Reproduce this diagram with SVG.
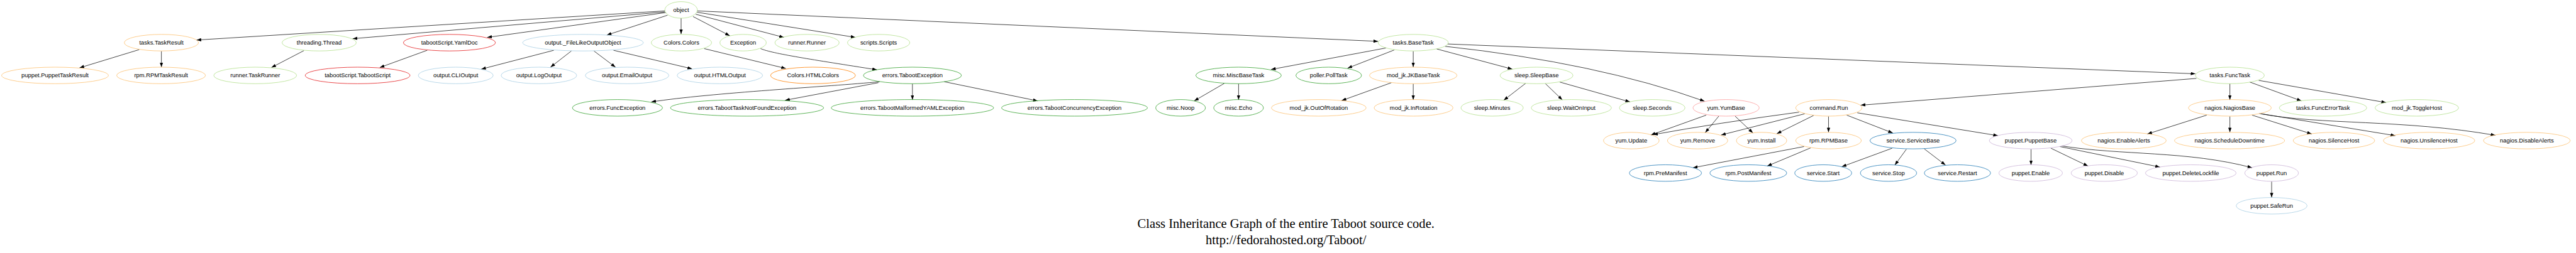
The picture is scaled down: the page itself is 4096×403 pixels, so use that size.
<svg xmlns="http://www.w3.org/2000/svg" width="4096" height="403" viewBox="0 0 4096 403">
<style>
.n ellipse{fill:none;stroke-width:1.5}
.n text{font-family:"Liberation Sans",Arial,sans-serif;font-size:17.8px;text-anchor:middle;fill:#000}
.lg ellipse{stroke:#b2df8a}.g ellipse{stroke:#33a02c}.lb ellipse{stroke:#a6cee3}.b ellipse{stroke:#1f78b4}
.lo ellipse{stroke:#fdbf6f}.o ellipse{stroke:#ff7f00}.r ellipse{stroke:#e31a1c}.pk ellipse{stroke:#fb9a99}.lp ellipse{stroke:#cab2d6}
#connectors path{fill:none;stroke:#000;stroke-width:1.4;marker-end:url(#arr)}
.cap{font-family:"Liberation Serif","Times New Roman",serif;font-size:39px;text-anchor:middle;fill:#000}
</style>
<defs>
<marker id="arr" markerUnits="userSpaceOnUse" viewBox="0 0 14 10" markerWidth="14" markerHeight="10" refX="14" refY="5" orient="auto"><path d="M0,0 L14,5 L0,10 z" fill="#000"/></marker>
</defs>
<rect width="4096" height="403" fill="#fff"/>
<g transform="scale(0.527)">
<g id="connectors">
<path d="M2006,33 L593,121"/>
<path d="M2006,36 L1064,117"/>
<path d="M2009,38 L1470,113"/>
<path d="M2014,46 L1831,106"/>
<path d="M2055,55 L2055,103"/>
<path d="M2091,50 L2202,108"/>
<path d="M2099,43 L2365,113"/>
<path d="M2103,37 L2581,113"/>
<path d="M2104,33 L4158,125"/>
<path d="M420,150 L240,205"/>
<path d="M487,155 L487,203"/>
<path d="M917,153 L819,204"/>
<path d="M1289,152 L1146,204"/>
<path d="M1671,152 L1452,209"/>
<path d="M1724,154 L1661,203"/>
<path d="M1792,154 L1857,203"/>
<path d="M1851,152 L2088,208"/>
<path d="M2125,147 L2371,207"/>
<path d="M2295,147 C2330,162 2450,180 2646,211"/>
<path d="M2654,247 C2500,262 2150,280 1965,308"/>
<path d="M2650,250 L2369,303"/>
<path d="M2753,253 L2753,302"/>
<path d="M2849,247 L3131,305"/>
<path d="M4182,145 L3835,210"/>
<path d="M4207,151 L4066,206"/>
<path d="M4264,155 L4264,203"/>
<path d="M4335,148 L4563,209"/>
<path d="M4360,140 Q4820,190 5143,306"/>
<path d="M4368,133 L6624,223"/>
<path d="M6627,237 L5614,318"/>
<path d="M6728,253 L6728,302"/>
<path d="M6788,248 L6944,305"/>
<path d="M6815,243 L7199,310"/>
<path d="M4198,250 L4048,304"/>
<path d="M4264,253 L4264,302"/>
<path d="M4603,252 L4537,303"/>
<path d="M4663,253 L4714,302"/>
<path d="M4706,248 L4918,308"/>
<path d="M3694,252 L3603,305"/>
<path d="M3737,253 L3737,302"/>
<path d="M5148,348 L4981,408"/>
<path d="M5186,351 L5145,401"/>
<path d="M5235,351 L5289,402"/>
<path d="M5428,339 Q5180,372 4988,407"/>
<path d="M5445,344 L5193,408"/>
<path d="M5472,349 L5361,404"/>
<path d="M5517,352 L5517,400"/>
<path d="M5572,348 L5711,402"/>
<path d="M5604,341 L6028,410"/>
<path d="M5443,443 L5108,507"/>
<path d="M5463,447 L5332,502"/>
<path d="M5709,448 L5557,504"/>
<path d="M5752,451 L5717,499"/>
<path d="M5806,450 L5870,499"/>
<path d="M6128,451 L6128,499"/>
<path d="M6188,448 L6300,502"/>
<path d="M6215,443 L6517,505"/>
<path d="M6220,441 C6400,470 6600,455 6795,507"/>
<path d="M6854,549 L6854,597"/>
<path d="M6658,348 L6479,405"/>
<path d="M6728,352 L6728,400"/>
<path d="M6795,348 L6975,405"/>
<path d="M6817,343 L7227,410"/>
<path d="M6822,344 C7000,378 7250,360 7529,409"/>
</g>
<g id="object" class="n lg"><ellipse cx="2055" cy="30" rx="49" ry="25"/><text x="2055" y="36">object</text></g>
<g id="tasks.TaskResult" class="n lo"><ellipse cx="487" cy="129" rx="112" ry="25"/><text x="487" y="135">tasks.TaskResult</text></g>
<g id="threading.Thread" class="n lg"><ellipse cx="963" cy="129" rx="112" ry="25"/><text x="963" y="135">threading.Thread</text></g>
<g id="tabootScript.YamlDoc" class="n r"><ellipse cx="1356" cy="129" rx="139" ry="25"/><text x="1356" y="135">tabootScript.YamlDoc</text></g>
<g id="output._FileLikeOutputObject" class="n lb"><ellipse cx="1759" cy="129" rx="182" ry="25"/><text x="1759" y="135">output._FileLikeOutputObject</text></g>
<g id="Colors.Colors" class="n lg"><ellipse cx="2056" cy="129" rx="91" ry="25"/><text x="2056" y="135">Colors.Colors</text></g>
<g id="Exception" class="n lg"><ellipse cx="2242" cy="129" rx="70" ry="25"/><text x="2242" y="135">Exception</text></g>
<g id="runner.Runner" class="n lg"><ellipse cx="2435" cy="129" rx="97" ry="25"/><text x="2435" y="135">runner.Runner</text></g>
<g id="scripts.Scripts" class="n lg"><ellipse cx="2651" cy="129" rx="94" ry="25"/><text x="2651" y="135">scripts.Scripts</text></g>
<g id="tasks.BaseTask" class="n lg"><ellipse cx="4264" cy="129" rx="106" ry="25"/><text x="4264" y="135">tasks.BaseTask</text></g>
<g id="puppet.PuppetTaskResult" class="n lo"><ellipse cx="166" cy="228" rx="161" ry="25"/><text x="166" y="234">puppet.PuppetTaskResult</text></g>
<g id="rpm.RPMTaskResult" class="n lo"><ellipse cx="486" cy="228" rx="134" ry="25"/><text x="486" y="234">rpm.RPMTaskResult</text></g>
<g id="runner.TaskRunner" class="n lg"><ellipse cx="770" cy="228" rx="125" ry="25"/><text x="770" y="234">runner.TaskRunner</text></g>
<g id="tabootScript.TabootScript" class="n r"><ellipse cx="1079" cy="228" rx="158" ry="25"/><text x="1079" y="234">tabootScript.TabootScript</text></g>
<g id="output.CLIOutput" class="n lb"><ellipse cx="1375" cy="228" rx="113" ry="25"/><text x="1375" y="234">output.CLIOutput</text></g>
<g id="output.LogOutput" class="n lb"><ellipse cx="1626" cy="228" rx="114" ry="25"/><text x="1626" y="234">output.LogOutput</text></g>
<g id="output.EmailOutput" class="n lb"><ellipse cx="1892" cy="228" rx="126" ry="25"/><text x="1892" y="234">output.EmailOutput</text></g>
<g id="output.HTMLOutput" class="n lb"><ellipse cx="2172" cy="228" rx="129" ry="25"/><text x="2172" y="234">output.HTMLOutput</text></g>
<g id="Colors.HTMLColors" class="n o"><ellipse cx="2453" cy="228" rx="128" ry="25"/><text x="2453" y="234">Colors.HTMLColors</text></g>
<g id="errors.TabootException" class="n g"><ellipse cx="2753" cy="228" rx="148" ry="25"/><text x="2753" y="234">errors.TabootException</text></g>
<g id="misc.MiscBaseTask" class="n g"><ellipse cx="3737" cy="228" rx="129" ry="25"/><text x="3737" y="234">misc.MiscBaseTask</text></g>
<g id="poller.PollTask" class="n g"><ellipse cx="4009" cy="228" rx="99" ry="25"/><text x="4009" y="234">poller.PollTask</text></g>
<g id="mod_jk.JKBaseTask" class="n lo"><ellipse cx="4264" cy="228" rx="132" ry="25"/><text x="4264" y="234">mod_jk.JKBaseTask</text></g>
<g id="sleep.SleepBase" class="n lg"><ellipse cx="4636" cy="228" rx="110" ry="25"/><text x="4636" y="234">sleep.SleepBase</text></g>
<g id="tasks.FuncTask" class="n lg"><ellipse cx="6728" cy="228" rx="104" ry="25"/><text x="6728" y="234">tasks.FuncTask</text></g>
<g id="errors.FuncException" class="n g"><ellipse cx="1863" cy="326" rx="136" ry="25"/><text x="1863" y="332">errors.FuncException</text></g>
<g id="errors.TabootTaskNotFoundException" class="n g"><ellipse cx="2254" cy="326" rx="231" ry="25"/><text x="2254" y="332">errors.TabootTaskNotFoundException</text></g>
<g id="errors.TabootMalformedYAMLException" class="n g"><ellipse cx="2753" cy="326" rx="245" ry="25"/><text x="2753" y="332">errors.TabootMalformedYAMLException</text></g>
<g id="errors.TabootConcurrencyException" class="n g"><ellipse cx="3242" cy="326" rx="220" ry="25"/><text x="3242" y="332">errors.TabootConcurrencyException</text></g>
<g id="misc.Noop" class="n g"><ellipse cx="3562" cy="326" rx="75" ry="25"/><text x="3562" y="332">misc.Noop</text></g>
<g id="misc.Echo" class="n g"><ellipse cx="3737" cy="326" rx="75" ry="25"/><text x="3737" y="332">misc.Echo</text></g>
<g id="mod_jk.OutOfRotation" class="n lo"><ellipse cx="3979" cy="326" rx="143" ry="25"/><text x="3979" y="332">mod_jk.OutOfRotation</text></g>
<g id="mod_jk.InRotation" class="n lo"><ellipse cx="4265" cy="326" rx="119" ry="25"/><text x="4265" y="332">mod_jk.InRotation</text></g>
<g id="sleep.Minutes" class="n lg"><ellipse cx="4502" cy="326" rx="94" ry="25"/><text x="4502" y="332">sleep.Minutes</text></g>
<g id="sleep.WaitOnInput" class="n lg"><ellipse cx="4741" cy="326" rx="121" ry="25"/><text x="4741" y="332">sleep.WaitOnInput</text></g>
<g id="sleep.Seconds" class="n lg"><ellipse cx="4985" cy="326" rx="99" ry="25"/><text x="4985" y="332">sleep.Seconds</text></g>
<g id="yum.YumBase" class="n pk"><ellipse cx="5208" cy="326" rx="100" ry="25"/><text x="5208" y="332">yum.YumBase</text></g>
<g id="command.Run" class="n lo"><ellipse cx="5518" cy="326" rx="100" ry="25"/><text x="5518" y="332">command.Run</text></g>
<g id="nagios.NagiosBase" class="n lo"><ellipse cx="6728" cy="326" rx="125" ry="25"/><text x="6728" y="332">nagios.NagiosBase</text></g>
<g id="tasks.FuncErrorTask" class="n lg"><ellipse cx="7009" cy="326" rx="132" ry="25"/><text x="7009" y="332">tasks.FuncErrorTask</text></g>
<g id="mod_jk.ToggleHost" class="n lg"><ellipse cx="7292" cy="326" rx="126" ry="25"/><text x="7292" y="332">mod_jk.ToggleHost</text></g>
<g id="yum.Update" class="n lo"><ellipse cx="4922" cy="425" rx="84" ry="25"/><text x="4922" y="431">yum.Update</text></g>
<g id="yum.Remove" class="n lo"><ellipse cx="5122" cy="425" rx="91" ry="25"/><text x="5122" y="431">yum.Remove</text></g>
<g id="yum.Install" class="n lo"><ellipse cx="5315" cy="425" rx="76" ry="25"/><text x="5315" y="431">yum.Install</text></g>
<g id="rpm.RPMBase" class="n lo"><ellipse cx="5517" cy="425" rx="99" ry="25"/><text x="5517" y="431">rpm.RPMBase</text></g>
<g id="service.ServiceBase" class="n b"><ellipse cx="5772" cy="425" rx="130" ry="25"/><text x="5772" y="431">service.ServiceBase</text></g>
<g id="puppet.PuppetBase" class="n lp"><ellipse cx="6127" cy="425" rx="125" ry="25"/><text x="6127" y="431">puppet.PuppetBase</text></g>
<g id="nagios.EnableAlerts" class="n lo"><ellipse cx="6408" cy="425" rx="128" ry="25"/><text x="6408" y="431">nagios.EnableAlerts</text></g>
<g id="nagios.ScheduleDowntime" class="n lo"><ellipse cx="6727" cy="425" rx="166" ry="25"/><text x="6727" y="431">nagios.ScheduleDowntime</text></g>
<g id="nagios.SilenceHost" class="n lo"><ellipse cx="7042" cy="425" rx="123" ry="25"/><text x="7042" y="431">nagios.SilenceHost</text></g>
<g id="nagios.UnsilenceHost" class="n lo"><ellipse cx="7329" cy="425" rx="138" ry="25"/><text x="7329" y="431">nagios.UnsilenceHost</text></g>
<g id="nagios.DisableAlerts" class="n lo"><ellipse cx="7624" cy="425" rx="131" ry="25"/><text x="7624" y="431">nagios.DisableAlerts</text></g>
<g id="rpm.PreManifest" class="n b"><ellipse cx="5025" cy="523" rx="109" ry="25"/><text x="5025" y="529">rpm.PreManifest</text></g>
<g id="rpm.PostManifest" class="n b"><ellipse cx="5275" cy="523" rx="116" ry="25"/><text x="5275" y="529">rpm.PostManifest</text></g>
<g id="service.Start" class="n b"><ellipse cx="5501" cy="523" rx="86" ry="25"/><text x="5501" y="529">service.Start</text></g>
<g id="service.Stop" class="n b"><ellipse cx="5698" cy="523" rx="85" ry="25"/><text x="5698" y="529">service.Stop</text></g>
<g id="service.Restart" class="n b"><ellipse cx="5906" cy="523" rx="100" ry="25"/><text x="5906" y="529">service.Restart</text></g>
<g id="puppet.Enable" class="n lp"><ellipse cx="6127" cy="523" rx="96" ry="25"/><text x="6127" y="529">puppet.Enable</text></g>
<g id="puppet.Disable" class="n lp"><ellipse cx="6349" cy="523" rx="100" ry="25"/><text x="6349" y="529">puppet.Disable</text></g>
<g id="puppet.DeleteLockfile" class="n lp"><ellipse cx="6610" cy="523" rx="137" ry="25"/><text x="6610" y="529">puppet.DeleteLockfile</text></g>
<g id="puppet.Run" class="n lp"><ellipse cx="6854" cy="523" rx="81" ry="25"/><text x="6854" y="529">puppet.Run</text></g>
<g id="puppet.SafeRun" class="n lb"><ellipse cx="6854" cy="622" rx="107" ry="25"/><text x="6854" y="628">puppet.SafeRun</text></g>
<g id="caption">
<text class="cap" x="3880" y="689">Class Inheritance Graph of the entire Taboot source code.</text>
<text class="cap" x="3880" y="738">http://fedorahosted.org/Taboot/</text>
</g>
</g>
</svg>
